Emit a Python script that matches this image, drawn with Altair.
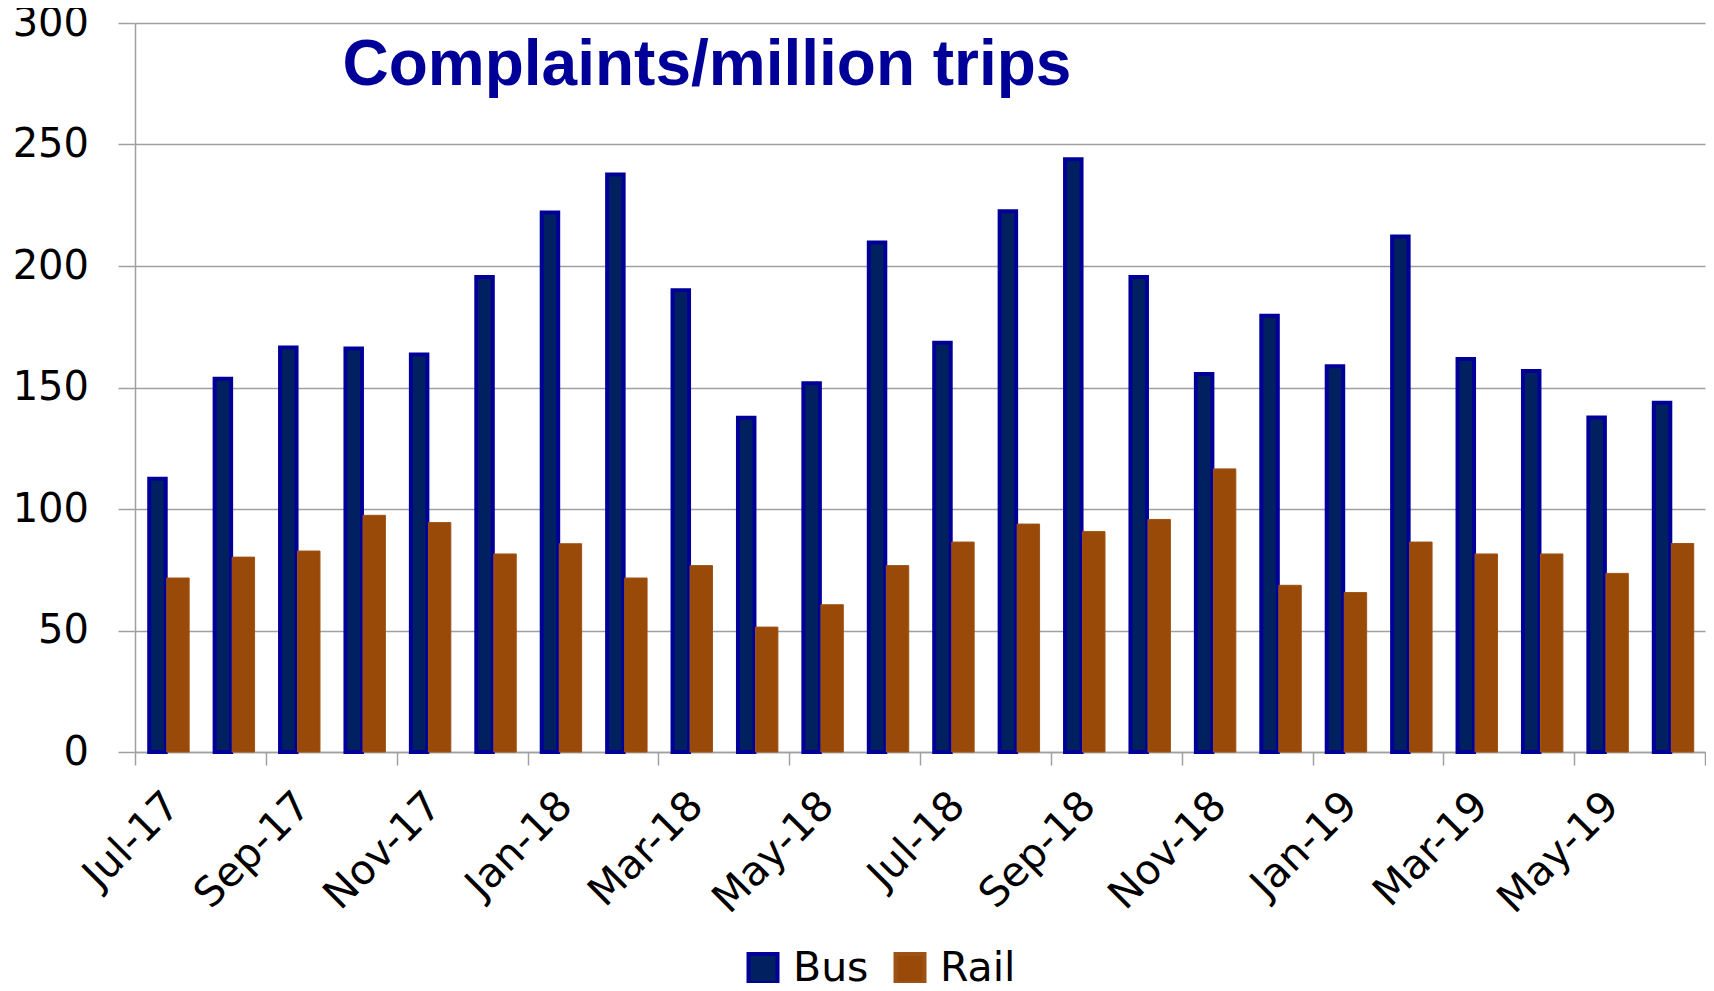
import altair as alt
import pandas as pd

months = ["Jul-17", "Aug-17", "Sep-17", "Oct-17", "Nov-17", "Dec-17",
          "Jan-18", "Feb-18", "Mar-18", "Apr-18", "May-18", "Jun-18",
          "Jul-18", "Aug-18", "Sep-18", "Oct-18", "Nov-18", "Dec-18",
          "Jan-19", "Feb-19", "Mar-19", "Apr-19", "May-19", "Jun-19"]
bus = [112.5, 153.6, 166.5, 166.0, 163.6, 195.5,
       222.0, 237.7, 190.0, 137.6, 151.8, 209.7,
       168.4, 222.5, 243.9, 195.5, 155.6, 179.5,
       158.7, 212.1, 161.7, 156.8, 137.7, 143.7]
rail = [71.6, 80.2, 82.7, 97.4, 94.4, 81.5,
        85.7, 71.6, 76.7, 51.4, 60.6, 76.7,
        86.4, 93.8, 90.7, 95.7, 116.5, 68.6,
        65.6, 86.4, 81.5, 81.5, 73.5, 85.8]
series_names = ["Bus", "Rail"]
y_ticks = [0, 50, 100, 150, 200, 250, 300]

rows = []
for m, v in zip(months, bus):
    rows.append({"month": m, "series": "Bus", "value": v})
for m, v in zip(months, rail):
    rows.append({"month": m, "series": "Rail", "value": v})
df = pd.DataFrame(rows)

GRAY = "#A0A0A0"
AXFONT = "DejaVu Sans"
labeled_re = "/^(Jul|Sep|Nov|Jan|Mar|May)/"

legend = alt.Legend(
    title=None, orient="none", legendX=607.5, legendY=925,
    direction="horizontal", symbolType="square", symbolSize=841,
    symbolStrokeWidth=4, labelFont=AXFONT, labelFontSize=41,
    labelColor="black", labelOffset=9.5, columnPadding=19,
)

chart = alt.Chart(df).mark_bar(opacity=1).encode(
    x=alt.X(
        "month:N", sort=months,
        scale=alt.Scale(paddingInner=0, paddingOuter=0),
        axis=alt.Axis(
            title=None, grid=False, tickBand="extent",
            tickSize=13, tickColor=GRAY, tickWidth=1.5,
            tickOpacity={"condition": {"test": f"test({labeled_re}, datum.value + '')", "value": 0}, "value": 1},
            labelExpr=f"test({labeled_re}, datum.label) ? datum.label : ''",
            labelAngle=-45, labelAlign="right", labelBaseline="top",
            labelPadding=20, labelOffset=-9, labelFont=AXFONT, labelFontSize=41,
            labelColor="black", labelOverlap=False,
            domainColor=GRAY, domainWidth=1.5,
        ),
    ),
    xOffset=alt.XOffset("series:N", sort=series_names,
                        scale=alt.Scale(paddingInner=0, paddingOuter=0.596)),
    y=alt.Y(
        "value:Q", scale=alt.Scale(domain=[0, 300], nice=False),
        axis=alt.Axis(
            title=None, values=y_ticks, grid=True, gridColor=GRAY, gridWidth=1.5,
            tickSize=17, tickColor=GRAY, tickWidth=1.5,
            domainColor=GRAY, domainWidth=1.5,
            labelFont=AXFONT, labelFontSize=40, labelColor="black", labelPadding=29.5,
        ),
    ),
    fill=alt.Fill("series:N", scale=alt.Scale(domain=series_names, range=["#002060", "#994A08"]), legend=legend),
    stroke=alt.Stroke("series:N", scale=alt.Scale(domain=series_names, range=["#000099", "#9E5214"]), legend=legend),
    strokeWidth=alt.StrokeWidth("series:O", scale=alt.Scale(range=[4, 1]), legend=None),
    size=alt.Size("series:O", scale=alt.Scale(range=[16.5, 22.4]), legend=None),
).properties(
    width=1570, height=729,
    autosize=alt.AutoSizeParams(type="none"),
    padding={"left": 127, "top": 15, "right": 1, "bottom": 231},
    background="white",
    title=alt.TitleParams(
        text="Complaints/million trips", anchor="start", frame="group", orient="top",
        offset=0, dx=207.5, dy=146, baseline="alphabetic",
        font="Liberation Sans", fontSize=64, fontWeight="bold", color="#000099",
    ),
).configure_view(stroke=None)

chart.save("out.html", embed_options={"renderer": "svg", "actions": False})
